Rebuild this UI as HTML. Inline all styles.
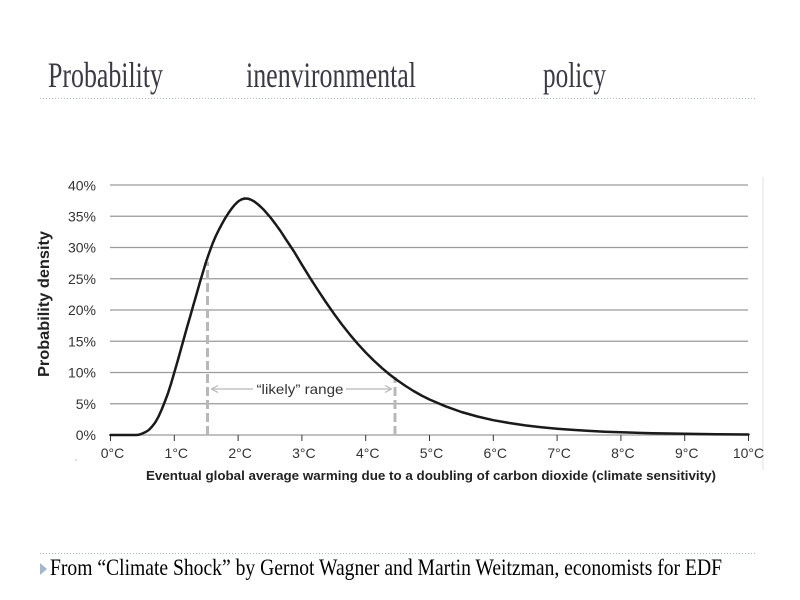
<!DOCTYPE html>
<html>
<head>
<meta charset="utf-8">
<style>
  html,body{margin:0;padding:0;background:#fff;}
  svg{display:block;}
</style>
</head>
<body>
<svg width="800" height="600" viewBox="0 0 800 600" xmlns="http://www.w3.org/2000/svg">
  <rect width="800" height="600" fill="#fff"/>
  <!-- Title -->
  <g font-family="'Liberation Serif', serif" font-size="36" fill="#3a3a44">
    <text x="48" y="87" textLength="115" lengthAdjust="spacingAndGlyphs">Probability</text>
    <text x="246" y="87" textLength="170" lengthAdjust="spacingAndGlyphs">inenvironmental</text>
    <text x="543" y="87" textLength="63" lengthAdjust="spacingAndGlyphs">policy</text>
  </g>
  <line x1="40" y1="98.5" x2="757" y2="98.5" stroke="#a9b7c6" stroke-width="1" stroke-dasharray="1,2"/>

  <!-- right faint vertical line -->
  <line x1="763" y1="177" x2="763" y2="470" stroke="#edf1f7" stroke-width="2"/>

  <!-- gridlines -->
  <g stroke="#9a9a9a" stroke-width="1.2">
    <line x1="110" y1="185" x2="748" y2="185"/>
    <line x1="110" y1="216.25" x2="748" y2="216.25"/>
    <line x1="110" y1="247.5" x2="748" y2="247.5"/>
    <line x1="110" y1="278.75" x2="748" y2="278.75"/>
    <line x1="110" y1="310" x2="748" y2="310"/>
    <line x1="110" y1="341.25" x2="748" y2="341.25"/>
    <line x1="110" y1="372.5" x2="748" y2="372.5"/>
    <line x1="110" y1="403.75" x2="748" y2="403.75"/>
    <line x1="110" y1="435" x2="748" y2="435"/>
  </g>

  <!-- y tick labels -->
  <g font-family="'Liberation Sans', sans-serif" font-size="14" fill="#333" text-anchor="end">
    <text x="96" y="190.5">40%</text>
    <text x="96" y="221.5">35%</text>
    <text x="96" y="252.5">30%</text>
    <text x="96" y="284">25%</text>
    <text x="96" y="315">20%</text>
    <text x="96" y="346.5">15%</text>
    <text x="96" y="377.5">10%</text>
    <text x="96" y="409">5%</text>
    <text x="96" y="440">0%</text>
  </g>

  <!-- y axis title -->
  <text transform="translate(49,304) rotate(-90)" font-family="'Liberation Sans', sans-serif" font-weight="bold" font-size="16" fill="#222" text-anchor="middle" textLength="146" lengthAdjust="spacingAndGlyphs">Probability density</text>

  <!-- x ticks -->
  <g stroke="#333" stroke-width="1">
    <line x1="110.5" y1="435" x2="110.5" y2="441"/>
    <line x1="174.3" y1="435" x2="174.3" y2="441"/>
    <line x1="238.1" y1="435" x2="238.1" y2="441"/>
    <line x1="301.9" y1="435" x2="301.9" y2="441"/>
    <line x1="365.7" y1="435" x2="365.7" y2="441"/>
    <line x1="429.5" y1="435" x2="429.5" y2="441"/>
    <line x1="493.3" y1="435" x2="493.3" y2="441"/>
    <line x1="557.1" y1="435" x2="557.1" y2="441"/>
    <line x1="620.9" y1="435" x2="620.9" y2="441"/>
    <line x1="684.7" y1="435" x2="684.7" y2="441"/>
    <line x1="748.5" y1="435" x2="748.5" y2="441"/>
  </g>
  <g font-family="'Liberation Sans', sans-serif" font-size="14" fill="#333" text-anchor="middle">
    <text x="112.5" y="458">0°C</text>
    <text x="176.3" y="458">1°C</text>
    <text x="240.1" y="458">2°C</text>
    <text x="303.9" y="458">3°C</text>
    <text x="367.7" y="458">4°C</text>
    <text x="431.5" y="458">5°C</text>
    <text x="495.3" y="458">6°C</text>
    <text x="559.1" y="458">7°C</text>
    <text x="622.9" y="458">8°C</text>
    <text x="686.7" y="458">9°C</text>
    <text x="748.5" y="458">10°C</text>
  </g>

  <!-- x axis title -->
  <text x="146" y="480" font-family="'Liberation Sans', sans-serif" font-weight="bold" font-size="12.5" fill="#222" textLength="570" lengthAdjust="spacingAndGlyphs">Eventual global average warming due to a doubling of carbon dioxide (climate sensitivity)</text>

  <!-- dashed likely range lines -->
  <g stroke="#b8b8b8" stroke-width="3" stroke-dasharray="9,4">
    <line x1="207.5" y1="435" x2="207.5" y2="262"/>
    <line x1="395" y1="435" x2="395" y2="377"/>
  </g>

  <!-- likely range arrow -->
  <g stroke="#b8b8b8" stroke-width="1.2" fill="none">
    <line x1="212" y1="389" x2="253" y2="389"/>
    <line x1="346" y1="389" x2="391" y2="389"/>
    <polyline points="218,385.5 211.5,389 218,392.5"/>
    <polyline points="385,385.5 391.5,389 385,392.5"/>
  </g>
  <text x="300" y="394" font-family="'Liberation Sans', sans-serif" font-size="14" fill="#333" text-anchor="middle" textLength="87" lengthAdjust="spacingAndGlyphs">“likely” range</text>

  <!-- curve -->
  <polyline fill="none" stroke="#1a1a1a" stroke-width="2.5" stroke-linejoin="round" stroke-linecap="round"
    points="110.5,435 136,435 139,434.7 142.4,433.5 145.6,432 148.8,430 152,426.6 155.2,422.5 158.4,416.8 161.5,410 164.7,402 167.9,393.5 171.1,383.5 174.3,372.5 177.5,361.5 180.7,350 183.9,338.5 187.1,327 190.3,316 193.4,305 196.6,294 199.7,283 202.9,272.3 206,262 209.3,252.5 212.6,243.5 215.8,236 219,229.5 222.2,223.5 225.3,218 228.5,213 231.7,208.5 234.9,204.6 238.1,201.5 241.3,199.5 244.5,198.5 247.7,198.6 250.9,199.7 254.1,201.4 257.2,203.7 260.4,206.5 263.6,209.6 270,216.9 276.4,225.3 280.5,231 285.95,239.4 294,251.5 301.9,264.7 310,277.8 317.85,290 325.8,302 333.8,313.5 341.8,324.4 349.75,334.4 357.7,343.8 365.7,352.5 373.7,360.5 381.65,367.8 389.6,374.5 397.6,380.5 405.6,386 413.55,391 421.5,395.5 429.5,399.5 445.5,406.3 461.4,412 477.4,416.5 493.3,420.2 509.3,423 525.2,425.4 541.2,427.2 557.1,428.7 573,429.9 589,430.9 605,431.7 620.9,432.3 652.8,433.2 684.7,433.8 716.6,434.2 748.5,434.5"/>

  <!-- small dot -->
  <circle cx="76" cy="460" r="0.8" fill="#bbb"/>

  <!-- footer -->
  <line x1="40" y1="553.5" x2="757" y2="553.5" stroke="#a9b7c6" stroke-width="1" stroke-dasharray="1,2"/>
  <polygon points="40,563 47,569 40,575" fill="#a3b6cc"/>
  <text x="50" y="575" font-family="'Liberation Serif', serif" font-size="23" fill="#000" textLength="672" lengthAdjust="spacingAndGlyphs">From “Climate Shock” by Gernot Wagner and Martin Weitzman, economists for EDF</text>
</svg>
</body>
</html>
